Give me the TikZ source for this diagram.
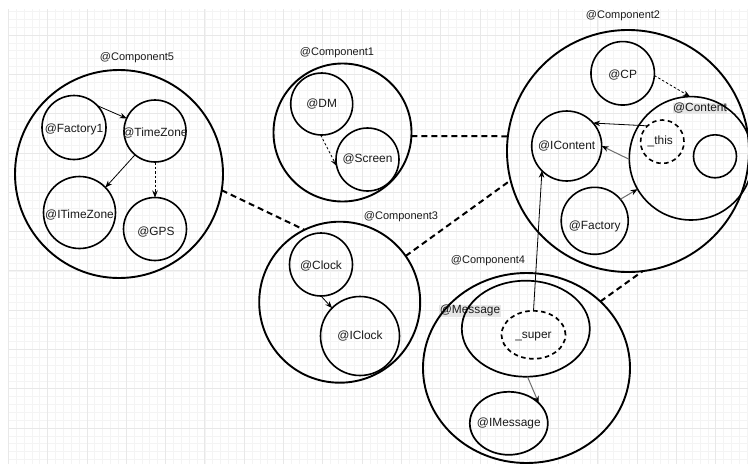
\documentclass[tikz,border=0pt]{standalone}
\usepackage{fontspec}
\setmainfont{Liberation Sans}
\usetikzlibrary{shapes.geometric,arrows.meta}
\definecolor{txtc}{HTML}{1A1A1A}
\definecolor{gmaj}{HTML}{E8E8E8}
\definecolor{gmin}{HTML}{F4F4F4}
\definecolor{lblbg}{HTML}{E6E6E6}
\definecolor{garr}{HTML}{6E6E6E}
\begin{document}
\begin{tikzpicture}[x=1pt,y=-1pt,
  bigc/.style={circle,draw=black,line width=1.9pt,minimum size=#1,inner sep=0pt,outer sep=0pt},
  circ/.style={circle,draw=black,line width=1.6pt,minimum size=#1,inner sep=0pt,outer sep=0pt},
  ell/.style 2 args={ellipse,draw=black,line width=1.7pt,minimum width=#1,minimum height=#2,inner sep=0pt,outer sep=0pt},
  dashc/.style={dash pattern=on 4.5pt off 3.5pt},
  lbl/.style={font=\fontsize{11.9}{13}\selectfont,text=txtc,inner sep=0pt},
  complbl/.style={font=\fontsize{11}{12}\selectfont,text=txtc,inner sep=0pt},
  bglbl/.style={font=\fontsize{11.9}{13}\selectfont,text=txtc,fill=lblbg,inner sep=0.6pt},
  conn/.style={line width=2pt,dash pattern=on 6pt off 4pt},
  arr/.style={line width=0.8pt,draw=black,-{Stealth[length=7pt,width=5.5pt]}},
  dsh/.style={dash pattern=on 2.5pt off 2pt},
  garrow/.style={line width=1pt,draw=garr,-{Stealth[length=7pt,width=5.5pt,color=black]}}
]
\useasboundingbox (0,0) rectangle (748,464);
\fill[white] (0,0) rectangle (748,464);
% grid
\begin{scope}
\clip (8,9) rectangle (748,464);
\foreach \i in {0,...,94} {
  \draw[gmin,line width=0.6pt] ({8.3+\i*7.86},9) -- ({8.3+\i*7.86},464);
}
\foreach \i in {-4,...,55} {
  \draw[gmin,line width=0.6pt] (8,{35+\i*7.86}) -- (748,{35+\i*7.86});
}
\foreach \i in {0,...,18} {
  \draw[gmaj,line width=0.8pt] ({8.3+\i*39.3},9) -- ({8.3+\i*39.3},464);
}
\foreach \i in {0,...,11} {
  \draw[gmaj,line width=0.8pt] (8,{35+\i*39.3}) -- (748,{35+\i*39.3});
}
\end{scope}

% labels with background (behind the outlines)
\node[bglbl] (lcontent) at (700,108.3) {@Content};
\node[bglbl] (lmessage) at (470,310.7) {@Message};

% Component5
\node[bigc=208pt] (c5) at (119,174) {};
\node[complbl] (l5) at (137,58) {@Component5};
\node[circ=64pt,label={[lbl,yshift=-1.5pt]center:@Factory1}] (factory1) at (74,127.5) {};
\node[circ=62pt,label={[lbl,yshift=-1.7pt]center:@TimeZone}] (timezone) at (155,131) {};
\node[circ=72pt,label={[lbl,yshift=-2.5pt]center:@ITimeZone}] (itimezone) at (79.5,212.5) {};
\node[circ=63pt,label={[lbl,xshift=1pt,yshift=-2.7pt]center:@GPS}] (gps) at (155,229) {};

% Component1
\node[bigc=138pt] (c1) at (342.5,132.5) {};
\node[complbl] (l1) at (337,53) {@Component1};
\node[circ=62pt,label={[lbl]center:@DM}] (dm) at (321.7,104) {};
\node[circ=63pt,label={[lbl]center:@Screen}] (screen) at (367.5,159.5) {};

% Component2
\node[bigc=242pt] (c2) at (628,151) {};
\node[complbl] (l2) at (623,16) {@Component2};
\node[circ=63.5pt,label={[lbl,yshift=-1.7pt]center:@CP}] (cp) at (622.7,73.3) {};
\node[circ=123.4pt] (content) at (691,158.3) {};
\node[circ=43.4pt,dashc,label={[lbl,xshift=-2pt]center:\_this}] (this) at (662.3,141.7) {};
\node[circ=43pt] (inner) at (715,156.3) {};
\node[circ=70pt,label={[lbl]center:@IContent}] (icontent) at (566.7,146) {};
\node[circ=67pt,label={[lbl,yshift=-5.5pt]center:@Factory}] (factory) at (594.7,220.8) {};

% Component3
\node[bigc=161pt] (c3) at (339.7,302.2) {};
\node[complbl] (l3) at (401,217) {@Component3};
\node[circ=63pt,label={[lbl,yshift=-2pt]center:@Clock}] (clock) at (321,264.5) {};
\node[circ=79pt,label={[lbl]center:@IClock}] (iclock) at (360,336) {};

% Component4
\node[ell={207pt}{190pt},line width=1.9pt] (c4) at (526.5,368) {};
\node[complbl] (l4) at (488,261) {@Component4};
\node[ell={128pt}{96pt}] (message) at (525.8,328.7) {};
\node[ell={64pt}{48pt},dashc,label={[lbl,yshift=-1.9pt]center:\_super}] (super) at (533.5,334.8) {};
\node[ell={78pt}{63pt},label={[lbl]center:@IMessage}] (imessage) at (508.8,423.3) {};

% dashed connectors between components
\draw[conn] (c1.-3) -- (c2.173);
\draw[conn] (c5.-9) -- (c3.116);
\draw[conn] (c3.35.6) -- (c2.194);
\draw[conn] (c4.42.4) -- (c2.-83);

% arrows
\draw[arr] (factory1.43) -- (timezone.156);
\draw[arr] (timezone.230) -- (itimezone.44);
\draw[arr,dsh] (timezone.270) -- (gps.90);
\draw[arr,dsh] (dm.268) -- (screen.192);
\draw[arr] (clock.270) -- (iclock.135);
\draw[arr,dsh] (cp.-4) -- (content.91);
\draw[arr] (this.133) -- (icontent.41);
\draw[garrow] (content.181) -- (icontent.0);
\draw[garrow] (factory.40) -- (content.210);
\draw[arr] (super.90) -- (icontent.225);
\draw[garrow] (message.272) -- (imessage.34);
\end{tikzpicture}
\end{document}
